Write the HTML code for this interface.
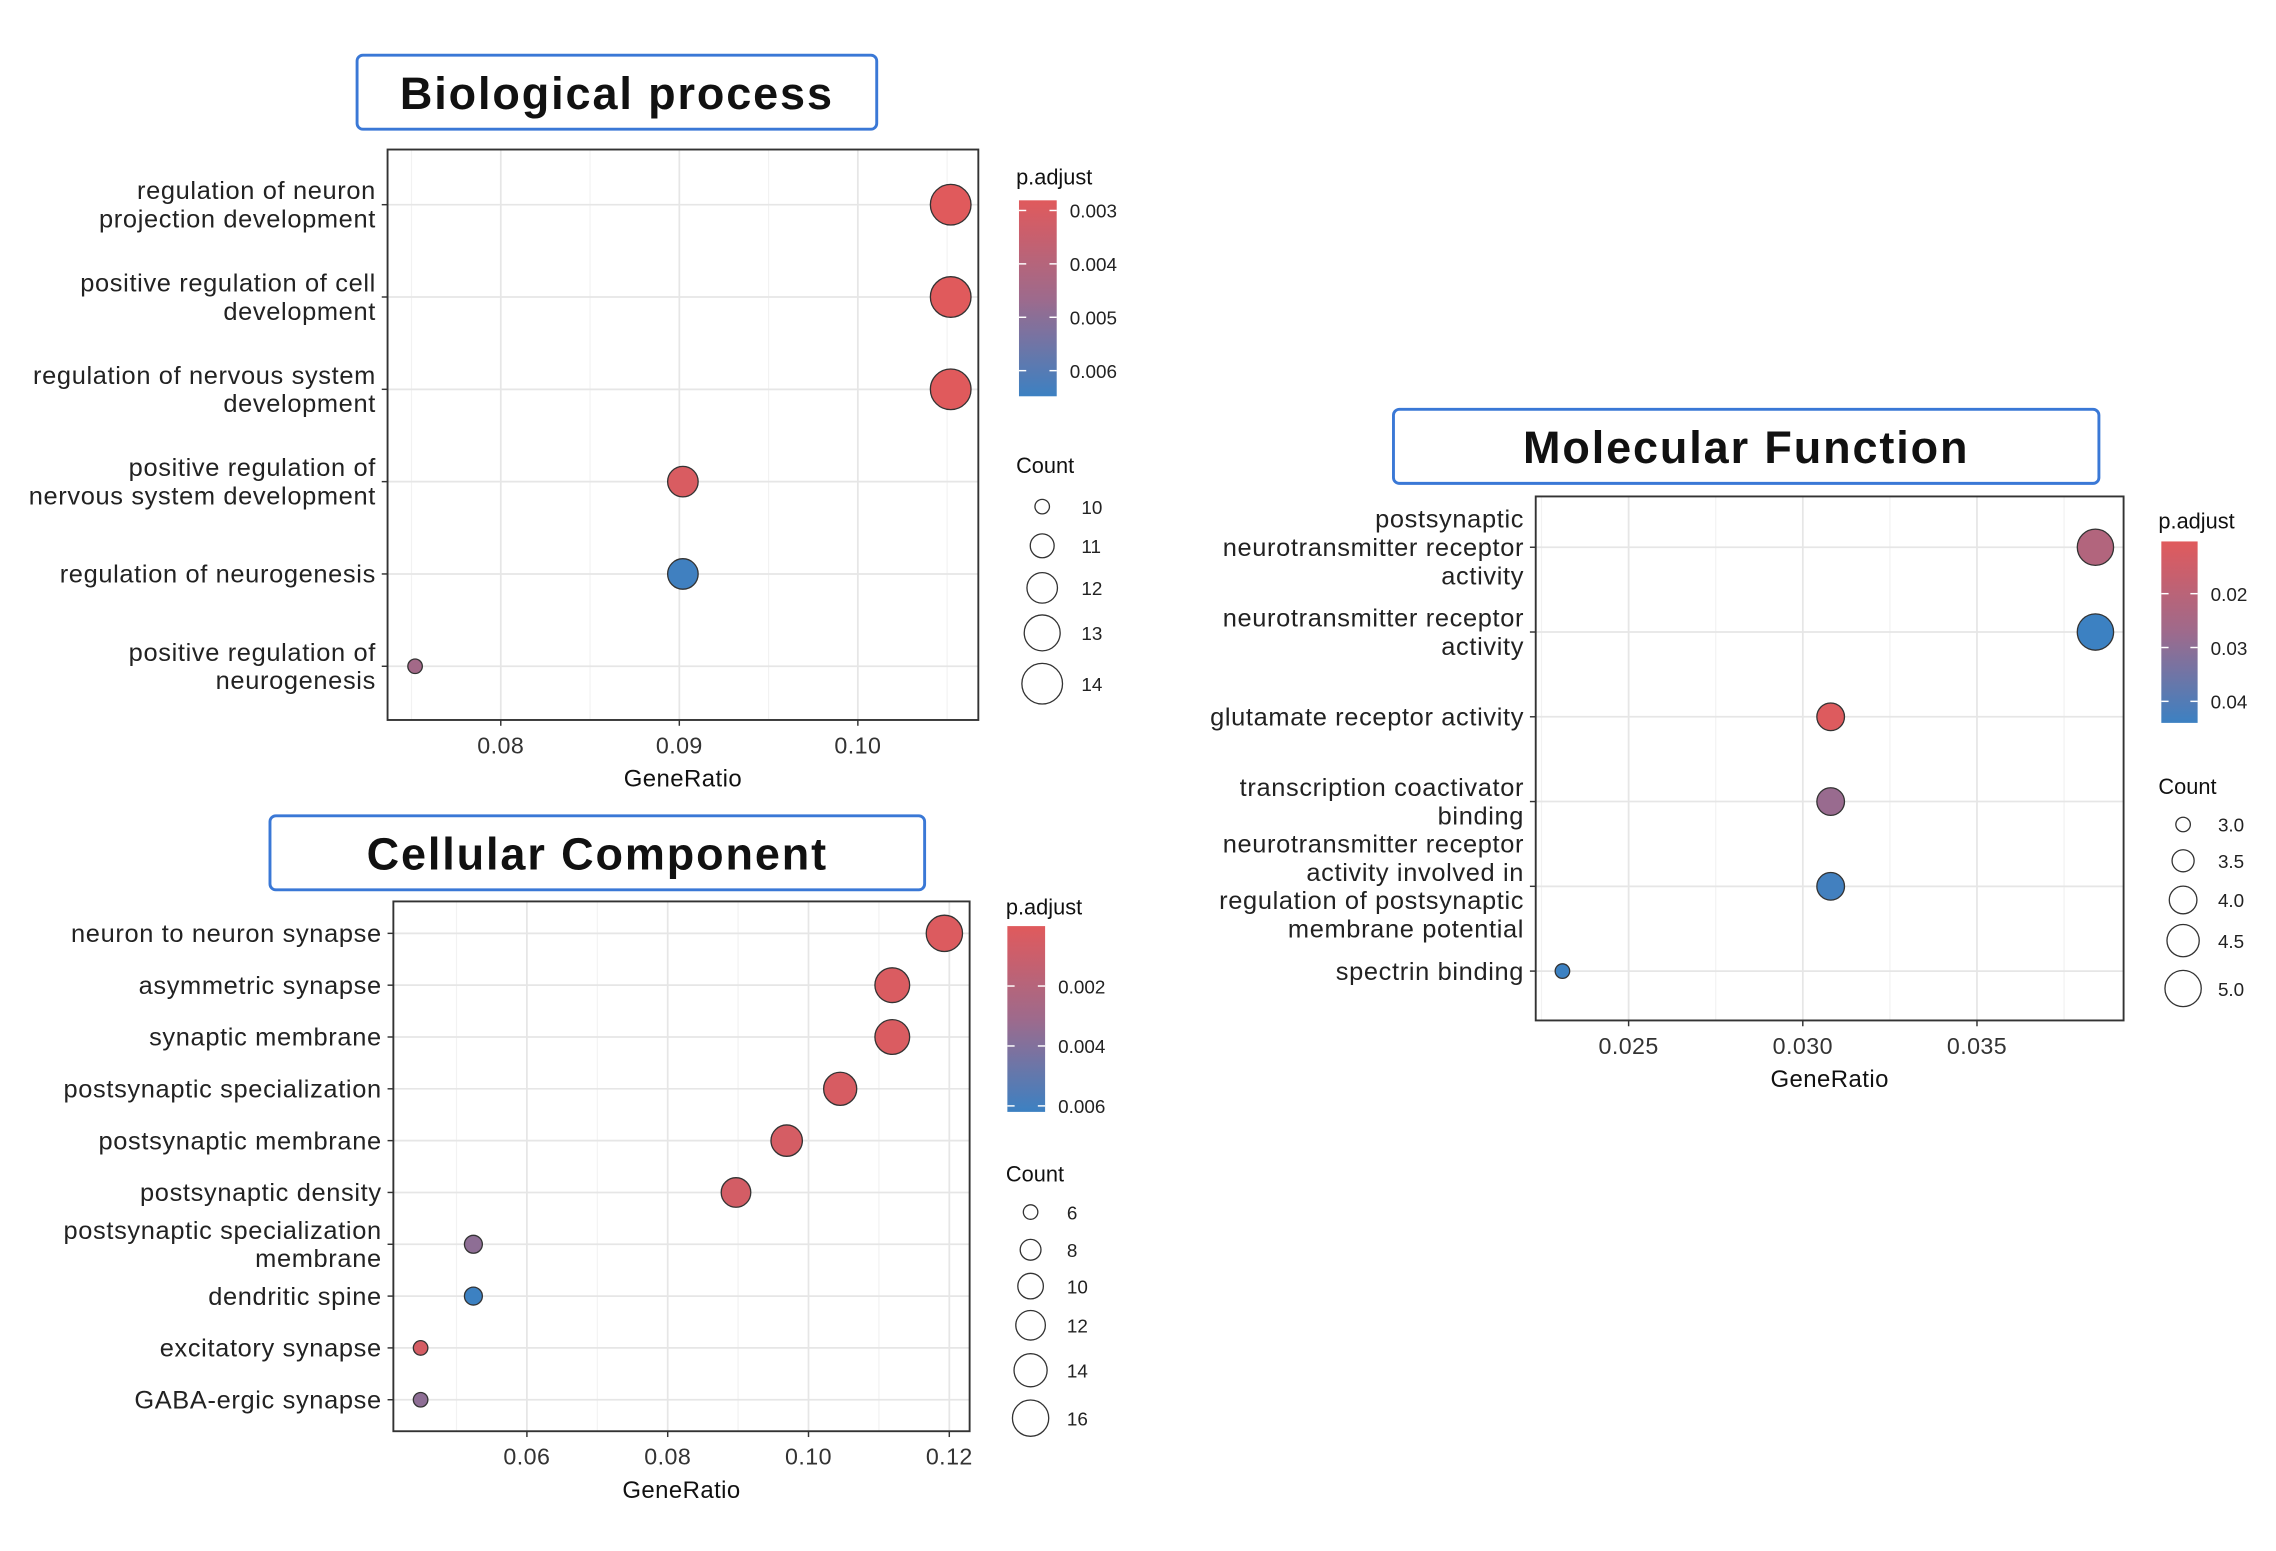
<!DOCTYPE html>
<html><head><meta charset="utf-8"><style>
html,body{margin:0;padding:0;background:#fff;}
svg{display:block;font-family:"Liberation Sans",Arial,sans-serif;}
</style></head><body>
<svg id="chart" width="2276" height="1551" viewBox="0 0 1568 1068.5" xmlns="http://www.w3.org/2000/svg"></svg>
<script>
// ---- Biological process data ----
const bpTerms = [["regulation of neuron","projection development"],["positive regulation of cell","development"],["regulation of nervous system","development"],["positive regulation of","nervous system development"],["regulation of neurogenesis"],["positive regulation of","neurogenesis"]];
const bpRatio = [0.1052,0.1052,0.1052,0.0902,0.0902,0.0752];
const bpCount = [14,14,14,12,12,10];
const bpP = [0.0028,0.0028,0.0028,0.0030,0.0064,0.0045];
const bpXTicks = [0.08,0.09,0.10];
const bpPTicks = [0.003,0.004,0.005,0.006];
const bpCTicks = [10,11,12,13,14];
// ---- Cellular component data ----
const ccTerms = [["neuron to neuron synapse"],["asymmetric synapse"],["synaptic membrane"],["postsynaptic specialization"],["postsynaptic membrane"],["postsynaptic density"],["postsynaptic specialization","membrane"],["dendritic spine"],["excitatory synapse"],["GABA-ergic synapse"]];
const ccRatio = [0.1193,0.1119,0.1119,0.1045,0.0969,0.0897,0.0524,0.0524,0.0449,0.0449];
const ccCount = [16,15,15,14,13,12,7,7,6,6];
const ccP = [0.0002,0.0003,0.0003,0.0004,0.0005,0.0006,0.0036,0.0062,0.0005,0.0036];
const ccXTicks = [0.06,0.08,0.10,0.12];
const ccPTicks = [0.002,0.004,0.006];
const ccCTicks = [6,8,10,12,14,16];
// ---- Molecular function data ----
const mfTerms = [["postsynaptic","neurotransmitter receptor","activity"],["neurotransmitter receptor","activity"],["glutamate receptor activity"],["transcription coactivator","binding"],["neurotransmitter receptor","activity involved in","regulation of postsynaptic","membrane potential"],["spectrin binding"]];
const mfRatio = [0.0384,0.0384,0.0308,0.0308,0.0308,0.0231];
const mfCount = [5,5,4,4,4,3];
const mfP = [0.022,0.044,0.011,0.028,0.043,0.044];
const mfXTicks = [0.025,0.030,0.035];
const mfPTicks = [0.02,0.03,0.04];
const mfCTicks = [3.0,3.5,4.0,4.5,5.0];

const NS="http://www.w3.org/2000/svg";
const svg=document.getElementById('chart');
function mk(tag,attrs,parent){const e=document.createElementNS(NS,tag);for(const k in attrs)e.setAttribute(k,attrs[k]);(parent||svg).appendChild(e);return e;}
const RED=[224,90,92],MID=[158,106,140],BLUE=[60,129,194];
function col(t){t=Math.max(0,Math.min(1,t));let a,b,u;if(t<0.5){a=RED;b=MID;u=t*2;}else{a=MID;b=BLUE;u=(t-0.5)*2;}
  return 'rgb('+a.map((c,i)=>Math.round(c+(b[i]-c)*u)).join(',')+')';}

function panel(cfg){
  const g=mk('g',{});
  
  
  const tb=mk('rect',{x:cfg.title[0],y:cfg.title[1],width:cfg.title[2]-cfg.title[0],height:cfg.title[3]-cfg.title[1],rx:4,fill:'#fff',stroke:'#3a78d6','stroke-width':2},g);
  
  
  const tt=mk('text',{x:(cfg.title[0]+cfg.title[2])/2,y:cfg.title[1]+37,'text-anchor':'middle','font-size':31,'font-weight':'bold','letter-spacing':1.3,fill:'#111'},g);
  tt.textContent=cfg.titleText;
  
  
  const [L,T,R,B]=cfg.box;
  const xs=v=>cfg.x0px+(v-cfg.x0)*cfg.pxPer;
  const n=cfg.terms.length;
  const ys=i=>cfg.rowY0+i*cfg.rowStep;
  const minor=[];
  for(let i=0;i<cfg.xTicks.length-1;i++)minor.push((cfg.xTicks[i]+cfg.xTicks[i+1])/2);
  minor.push(cfg.xTicks[0]-(cfg.xTicks[1]-cfg.xTicks[0])/2);
  minor.push(cfg.xTicks[cfg.xTicks.length-1]+(cfg.xTicks[1]-cfg.xTicks[0])/2);
  minor.forEach(v=>{const x=xs(v);if(x>L&&x<R){const l=mk('line',{x1:x,x2:x,y1:T,y2:B,stroke:'#f2f2f2','stroke-width':0.8},g);}});
  cfg.xTicks.forEach(v=>{const l=mk('line',{x1:xs(v),x2:xs(v),y1:T,y2:B,stroke:'#e6e6e6','stroke-width':1.2},g);});
  for(let i=0;i<n;i++){const l=mk('line',{x1:L,x2:R,y1:ys(i),y2:ys(i),stroke:'#e6e6e6','stroke-width':1.2},g);}
  const fr=mk('rect',{x:L,y:T,width:R-L,height:B-T,fill:'none',stroke:'#333','stroke-width':1.3},g);
  
  
  cfg.xTicks.forEach(v=>{
    mk('line',{x1:xs(v),x2:xs(v),y1:B,y2:B+4,stroke:'#333'},g);
    const t=mk('text',{x:xs(v),y:B+23,'text-anchor':'middle','font-size':16,'letter-spacing':0.3,fill:'#333'},g);
    t.textContent=cfg.xFmt(v);
    
    
  });
  const xt=mk('text',{x:(L+R)/2,y:B+46,'text-anchor':'middle','font-size':16.5,'letter-spacing':0.3,fill:'#111'},g);
  xt.textContent='GeneRatio';
  
  
  cfg.terms.forEach((lines,i)=>{
    mk('line',{x1:L-4,x2:L,y1:ys(i),y2:ys(i),stroke:'#333'},g);
    const t=mk('text',{x:L-8,'text-anchor':'end','font-size':17.5,'letter-spacing':0.45,fill:'#222'},g);
    
    
    const lh=19.5,y0=ys(i)+6-(lines.length-1)*lh/2;
    lines.forEach((s,k)=>{const sp=mk('tspan',{x:L-8,y:y0+k*lh},t);sp.textContent=s;});
  });
  const cmin=cfg.cTicks[0],cmax=cfg.cTicks[cfg.cTicks.length-1];
  const rs=c=>Math.sqrt(cfg.rmin*cfg.rmin+(c-cmin)/(cmax-cmin)*(cfg.rmax*cfg.rmax-cfg.rmin*cfg.rmin));
  const ps=p=>(p-cfg.pTop)/(cfg.pBot-cfg.pTop);
  cfg.ratio.forEach((v,i)=>{
    const c=mk('circle',{cx:xs(v),cy:ys(i),r:rs(cfg.count[i]),fill:col(ps(cfg.p[i])),stroke:'#333','stroke-width':0.9},g);
    
    
  });
  const lg=cfg.leg;
  const pt=mk('text',{x:lg.x,y:lg.pTitleY,'font-size':15,fill:'#111'},g);
  pt.textContent='p.adjust';
  
  
  const gid='grad-'+cfg.name;
  const defs=mk('defs',{},g);const gr=mk('linearGradient',{id:gid,x1:0,y1:0,x2:0,y2:1},defs);
  for(let k=0;k<=10;k++)mk('stop',{offset:k/10,'stop-color':col(k/10)},gr);
  const cb=mk('rect',{x:lg.barX,y:lg.barT,width:lg.barW,height:lg.barB-lg.barT,fill:'url(#'+gid+')'},g);
  
  
  const py=p=>lg.barT+ps(p)*(lg.barB-lg.barT);
  cfg.pTicks.forEach(p=>{
    mk('line',{x1:lg.barX,x2:lg.barX+5,y1:py(p),y2:py(p),stroke:'#fff'},g);
    mk('line',{x1:lg.barX+lg.barW-5,x2:lg.barX+lg.barW,y1:py(p),y2:py(p),stroke:'#fff'},g);
    const t=mk('text',{x:lg.barX+lg.barW+9,y:py(p)+5,'font-size':13,fill:'#222'},g);
    t.textContent=cfg.pFmt(p);
    
    
  });
  const ct=mk('text',{x:lg.x,y:lg.cTitleY,'font-size':15,fill:'#111'},g);
  ct.textContent='Count';
  
  
  cfg.cTicks.forEach((c,k)=>{
    const y=lg.cYs[k];
    const cc=mk('circle',{cx:lg.cX,cy:y,r:rs(c),fill:'none',stroke:'#333','stroke-width':0.9},g);
    
    
    const t=mk('text',{x:lg.cLabX,y:y+5,'font-size':13,fill:'#222'},g);
    t.textContent=cfg.cFmt(c);
    
    
  });
}

panel({name:'bp',titleText:'Biological process',title:[246,38,604,89],box:[267,103,674,496],
  x0:0.08,x0px:345,pxPer:12300,rowY0:141,rowStep:63.6,terms:bpTerms,ratio:bpRatio,count:bpCount,p:bpP,
  xTicks:bpXTicks,xFmt:v=>v.toFixed(2),rmin:5,rmax:14,cTicks:bpCTicks,cFmt:c=>String(c),
  pTicks:bpPTicks,pFmt:p=>p.toFixed(3),pTop:0.00281,pBot:0.00648,
  leg:{x:700,pTitleY:127,barX:702,barW:26,barT:138,barB:273,cTitleY:326,cX:718,cYs:[349,376,405,436,471],cLabX:745}});
panel({name:'cc',titleText:'Cellular Component',title:[186,562,637,613],box:[271,621,668,986],
  x0:0.06,x0px:363,pxPer:4850,rowY0:643,rowStep:35.7,terms:ccTerms,ratio:ccRatio,count:ccCount,p:ccP,
  xTicks:ccXTicks,xFmt:v=>v.toFixed(2),rmin:5,rmax:12.5,cTicks:ccCTicks,cFmt:c=>String(c),
  pTicks:ccPTicks,pFmt:p=>p.toFixed(3),pTop:0.0,pBot:0.0062,
  leg:{x:693,pTitleY:630,barX:694,barW:26,barT:638,barB:766,cTitleY:814,cX:710,cYs:[835,861,886,913,944,977],cLabX:735}});
panel({name:'mf',titleText:'Molecular Function',title:[960,282,1446,333],box:[1058,342,1463,703],
  x0:0.025,x0px:1122,pxPer:24000,rowY0:377,rowStep:58.4,terms:mfTerms,ratio:mfRatio,count:mfCount,p:mfP,
  xTicks:mfXTicks,xFmt:v=>v.toFixed(3),rmin:5,rmax:12.5,cTicks:mfCTicks,cFmt:c=>c.toFixed(1),
  pTicks:mfPTicks,pFmt:p=>p.toFixed(2),pTop:0.0103,pBot:0.044,
  leg:{x:1487,pTitleY:364,barX:1489,barW:25,barT:373,barB:498,cTitleY:547,cX:1504,cYs:[568,593,620,648,681],cLabX:1528}});
</script>
</body></html>
